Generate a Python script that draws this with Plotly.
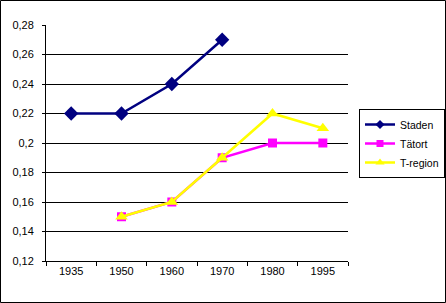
import plotly.graph_objects as go

years = ["1935", "1950", "1960", "1970", "1980", "1995"]
staden = [0.22, 0.22, 0.24, 0.27, None, None]
tatort = [None, 0.15, 0.16, 0.19, 0.20, 0.20]
tregion = [None, 0.15, 0.16, 0.19, 0.22, 0.21]

series = [
    ("Staden", staden, "#000080", "diamond", 11, 7),
    ("Tätort", tatort, "#FF00FF", "square", 9, 7),
    ("T-region", tregion, "#FFFF00", "triangle-up", 11, 8),
]

W, H = 446, 303
L, R, T, B = 46, 98, 25, 42
pw, ph = W - L - R, H - T - B

fig = go.Figure()
for name, vals, col, sym, sz, lsz in series:
    fig.add_trace(go.Scatter(x=years, y=vals, name=name, mode="lines+markers",
                             line=dict(color=col, width=2.5), showlegend=False,
                             marker=dict(symbol=sym, size=sz, color=col)))
for name, vals, col, sym, sz, lsz in series:
    fig.add_trace(go.Scatter(x=[None], y=[None], name=name, mode="lines+markers",
                             line=dict(color=col, width=2.5), showlegend=True,
                             marker=dict(symbol=sym, size=lsz, color=col)))

fig.update_layout(
    width=W, height=H,
    margin=dict(l=L, r=R, t=T, b=B, pad=0),
    paper_bgcolor="white", plot_bgcolor="white",
    separators=", ",
    font=dict(family="Liberation Sans, Arial, sans-serif", size=11, color="black"),
    xaxis=dict(type="category", showgrid=False, showline=True, linecolor="black", linewidth=1,
               ticks="outside", ticklen=4, tickcolor="black", tickson="boundaries",
               range=[-0.5, 5.5], zeroline=False),
    yaxis=dict(range=[0.12, 0.28], dtick=0.02, tick0=0.12, showgrid=True, gridcolor="black",
               gridwidth=1, showline=True, linecolor="black", linewidth=1,
               ticks="outside", ticklen=3, tickcolor="black", zeroline=False,
               ticklabelstandoff=6),
    legend=dict(xref="container", yref="container", x=359 / W, y=1 - 109 / H,
                xanchor="left", yanchor="top",
                bordercolor="black", borderwidth=1, bgcolor="white",
                font=dict(size=10.5), tracegroupgap=0, itemwidth=30),
    showlegend=True,
)

fig.add_shape(type="rect", xref="paper", yref="paper",
              x0=(0.5 - L) / pw, x1=(W - 0.5 - L) / pw,
              y0=(H - B - (H - 0.5)) / ph, y1=(H - B - 0.5) / ph,
              line=dict(color="black", width=1), fillcolor="rgba(0,0,0,0)", layer="below")

fig.write_html("out.html")
